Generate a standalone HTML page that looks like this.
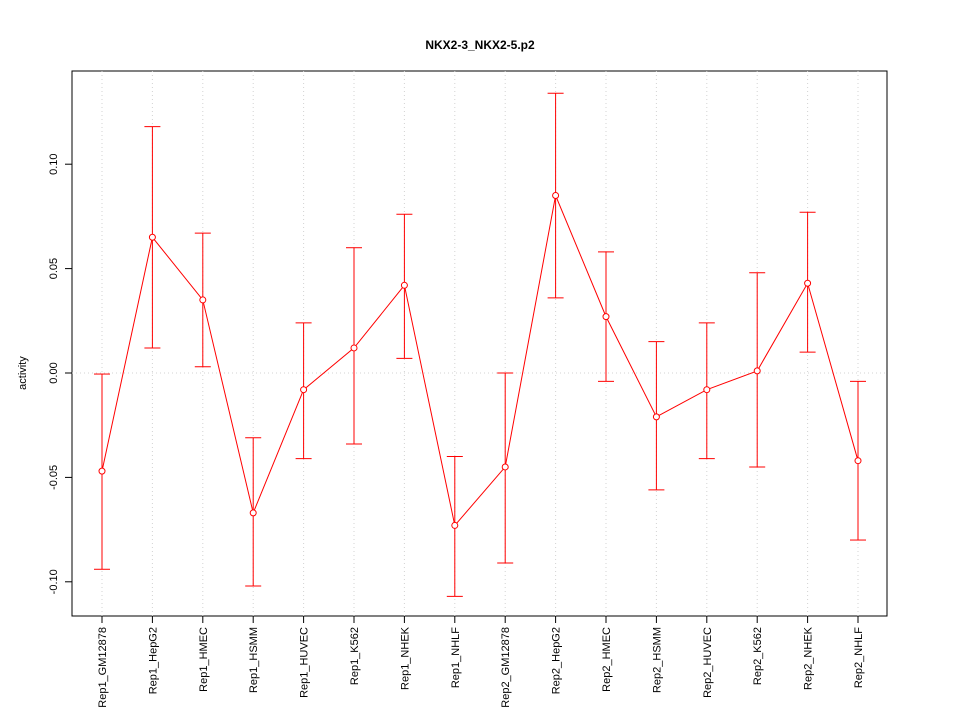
<!DOCTYPE html>
<html><head><meta charset="utf-8"><style>body{margin:0;background:#fff}svg{display:block;font-family:"Liberation Sans",sans-serif}</style></head>
<body>
<svg id="chart" width="960" height="720">
<text x="480" y="49" text-anchor="middle" font-size="12" font-weight="bold">NKX2-3_NKX2-5.p2</text>
<rect x="72" y="71" width="815" height="545" fill="none" stroke="#000"/>
<text transform="translate(26,373) rotate(-90)" text-anchor="middle" font-size="11">activity</text>
<g id="grid"></g><g id="axes"></g><g id="marks"></g>
</svg>
<script>
const categories=["Rep1_GM12878","Rep1_HepG2","Rep1_HMEC","Rep1_HSMM","Rep1_HUVEC","Rep1_K562","Rep1_NHEK","Rep1_NHLF","Rep2_GM12878","Rep2_HepG2","Rep2_HMEC","Rep2_HSMM","Rep2_HUVEC","Rep2_K562","Rep2_NHEK","Rep2_NHLF"];
const values=[-0.047,0.065,0.035,-0.067,-0.008,0.012,0.042,-0.073,-0.045,0.085,0.027,-0.021,-0.008,0.001,0.043,-0.042];
const upper=[-0.0005,0.118,0.067,-0.031,0.024,0.060,0.076,-0.040,0.000,0.134,0.058,0.015,0.024,0.048,0.077,-0.004];
const lower=[-0.094,0.012,0.003,-0.102,-0.041,-0.034,0.007,-0.107,-0.091,0.036,-0.004,-0.056,-0.041,-0.045,0.010,-0.080];
const yTicks=[-0.10,-0.05,0.00,0.05,0.10];
const yTickLabels=["-0.10","-0.05","0.00","0.05","0.10"];
const NS="http://www.w3.org/2000/svg";
function xs(i){return 102+i*(858-102)/(categories.length-1);}
function ys(v){return 373-v*2088;}
function mk(p,t,a){const e=document.createElementNS(NS,t);for(const k in a)e.setAttribute(k,a[k]);document.getElementById(p).appendChild(e);return e;}
categories.forEach((c,i)=>{
 const g=mk('grid','line',{x1:xs(i),x2:xs(i),y1:71,y2:616,stroke:'#d3d3d3','stroke-dasharray':'1,3'});
 
 
 const t=mk('axes','line',{x1:xs(i),x2:xs(i),y1:616,y2:623,stroke:'#000'});
 
 
 const l=mk('axes','text',{transform:`translate(${xs(i)+4},627) rotate(-90)`,'text-anchor':'end','font-size':'11'});
 l.textContent=c;
 
 
});
const z=mk('grid','line',{x1:72,x2:887,y1:ys(0),y2:ys(0),stroke:'#d3d3d3','stroke-dasharray':'1,3'});


yTicks.forEach((v,i)=>{
 const t=mk('axes','line',{x1:65,x2:72,y1:ys(v),y2:ys(v),stroke:'#000'});
 
 
 const l=mk('axes','text',{transform:`translate(57,${ys(v)}) rotate(-90)`,'text-anchor':'middle','font-size':'11'});
 l.textContent=yTickLabels[i];
 
 
});
values.forEach((v,i)=>{
 const x=xs(i);
 const e=mk('marks','line',{x1:x,x2:x,y1:ys(upper[i]),y2:ys(lower[i]),stroke:'#f00'});
 
 
 [upper[i],lower[i]].forEach(b=>{
  const c=mk('marks','line',{x1:x-8,x2:x+8,y1:ys(b),y2:ys(b),stroke:'#f00'});
  
  
 });
});
const line=mk('marks','polyline',{points:values.map((v,i)=>xs(i)+','+ys(v)).join(' '),fill:'none',stroke:'#f00'});


values.forEach((v,i)=>{
 const p=mk('marks','circle',{cx:xs(i),cy:ys(v),r:3,fill:'#fff',stroke:'#f00'});
 
 
});
</script>
</body></html>
